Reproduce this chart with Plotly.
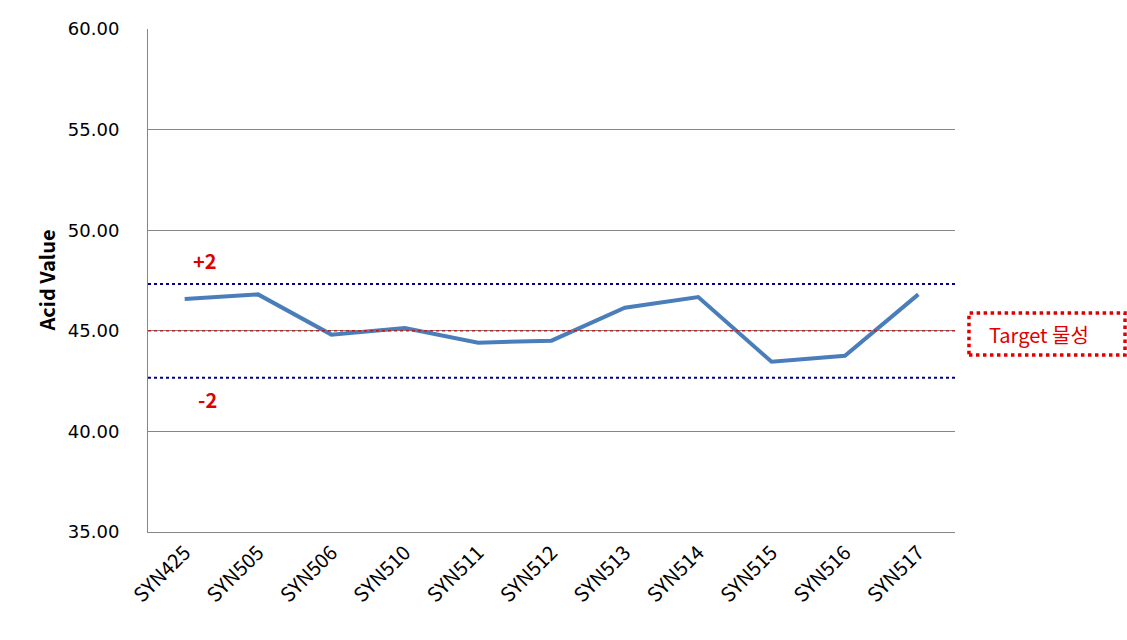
import plotly.graph_objects as go

categories = ["SYN425", "SYN505", "SYN506", "SYN510", "SYN511", "SYN512",
              "SYN513", "SYN514", "SYN515", "SYN516", "SYN517"]
acid_values = [46.58, 46.81, 44.81, 45.14, 44.41, 44.51, 46.15, 46.68, 43.46, 43.76, 46.81]
target_value = 45.0
upper_limit = 47.33
lower_limit = 42.67
y_ticks = [35, 40, 45, 50, 55, 60]

FONT = "Noto Sans CJK KR, Malgun Gothic, DejaVu Sans, sans-serif"
NUMFONT = "DejaVu Sans, sans-serif"

fig = go.Figure()
fig.add_trace(go.Scatter(
    x=categories, y=acid_values, mode="lines",
    line=dict(color="#4a7ebb", width=4), showlegend=False, hoverinfo="x+y"))

# reference lines
fig.add_shape(type="line", xref="paper", yref="y", x0=0, x1=1, y0=upper_limit, y1=upper_limit,
              line=dict(color="#00008b", width=2, dash="dot"))
fig.add_shape(type="line", xref="paper", yref="y", x0=0, x1=1, y0=lower_limit, y1=lower_limit,
              line=dict(color="#00008b", width=2, dash="dot"))
fig.add_shape(type="line", xref="paper", yref="y", x0=0, x1=1, y0=target_value, y1=target_value,
              line=dict(color="#b22222", width=1.5, dash="dot"))

# Target box
fig.add_shape(type="rect", xref="paper", yref="paper", x0=1.0173, x1=1.2107, y0=0.3519, y1=0.4354,
              line=dict(color="#e00000", width=3.5, dash="dot"), fillcolor="white")
fig.add_annotation(xref="paper", yref="paper", x=(1039 - 148) / 807, y=0.3936, text="Target 물성",
                   xanchor="center", yanchor="middle",
                   showarrow=False, font=dict(family=FONT, size=20, color="#e00000"))

fig.add_annotation(xref="paper", yref="y", x=(205 - 148) / 807, y=upper_limit + 1.17, text="<b>+2</b>",
                   xanchor="center", yanchor="middle",
                   showarrow=False, font=dict(family=FONT, size=20, color="#e00000"))
fig.add_annotation(xref="paper", yref="y", x=(207 - 148) / 807, y=lower_limit - 1.1, text="<b>-2</b>",
                   xanchor="center", yanchor="middle",
                   showarrow=False, font=dict(family=FONT, size=20, color="#e00000"))

fig.add_annotation(xref="paper", yref="paper", x=(46 - 148) / 807, y=0.5, text="<b>Acid Value</b>",
                   xanchor="center", yanchor="middle",
                   textangle=-90, showarrow=False, font=dict(family=FONT, size=20, color="black"))

fig.update_layout(
    width=1127, height=640,
    margin=dict(l=148, r=172, t=29, b=108),
    paper_bgcolor="white", plot_bgcolor="white",
    font=dict(family=FONT, size=17, color="black"),
    xaxis=dict(type="category", range=[-0.5, 10.5], tickangle=-45, showgrid=False,
               showline=True, linecolor="#868686", linewidth=1, ticks="",
               tickfont=dict(family=FONT, size=20), zeroline=False),
    yaxis=dict(range=[35, 60], tickvals=y_ticks, tickformat=".2f", showgrid=True,
               gridcolor="#868686", gridwidth=1, showline=True, linecolor="#868686", linewidth=1,
               ticks="", ticklabelstandoff=24, tickfont=dict(family=NUMFONT, size=18), zeroline=False),
)

fig.write_html("out.html")
